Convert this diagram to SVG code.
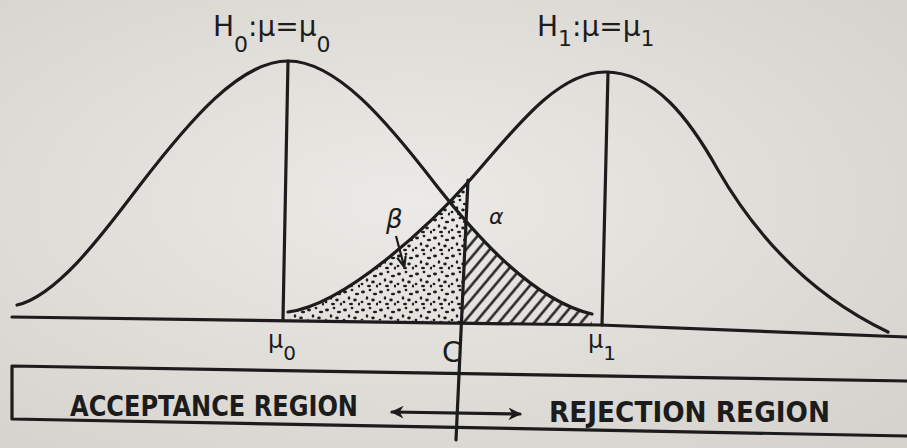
<svg xmlns="http://www.w3.org/2000/svg" width="907" height="448" viewBox="0 0 907 448">
<style>
.ink{fill:none;stroke:#1c1c1c;stroke-width:3.2;stroke-linecap:round;stroke-linejoin:round}
.lbl{font-family:"DejaVu Sans","Liberation Sans",sans-serif;fill:#1c1c1c}
.reg{font-family:"Liberation Sans Narrow","DejaVu Sans Condensed","Liberation Sans",sans-serif;font-weight:bold;fill:#1c1c1c;font-size:29px}
</style>
<defs>
<radialGradient id="paper" cx="0.45" cy="0.45" r="0.75">
<stop offset="0" stop-color="#eceae6"/>
<stop offset="1" stop-color="#d5d2cd"/>
</radialGradient>
<pattern id="hatch" patternUnits="userSpaceOnUse" width="9" height="9" patternTransform="rotate(-50)">
<line x1="0" y1="4.5" x2="9" y2="4.5" stroke="#1c1c1c" stroke-width="2.4"/>
</pattern>
<pattern id="dots" patternUnits="userSpaceOnUse" width="18" height="18">
<ellipse cx="3" cy="4" rx="2" ry="1.4" fill="#1c1c1c"/>
<ellipse cx="10" cy="2" rx="1.4" ry="1.2" fill="#1c1c1c"/>
<ellipse cx="15" cy="6" rx="2.2" ry="1.3" fill="#1c1c1c"/>
<ellipse cx="7" cy="10" rx="1.3" ry="1.8" fill="#1c1c1c"/>
<ellipse cx="13" cy="12" rx="1.8" ry="1.4" fill="#1c1c1c"/>
<ellipse cx="2" cy="14" rx="1.4" ry="1.2" fill="#1c1c1c"/>
<ellipse cx="9" cy="16" rx="2" ry="1.2" fill="#1c1c1c"/>
<ellipse cx="17" cy="16" rx="1.2" ry="1.6" fill="#1c1c1c"/>
</pattern>
<clipPath id="leftArea">
<path d="M17,305 C60,295 110,224 140,185 C190,120 240,61 288,61 C336,61 386,120 436,185 C470,228 530,300 592,314 L592,326 L17,320 Z"/>
</clipPath>
<clipPath id="rightArea">
<path d="M288,312 C345,305 430,225 470,180 C510,135 555,72 605,72 C655,72 690,120 718,170 C748,222 800,290 888,332 L888,340 L288,322 Z"/>
</clipPath>
<clipPath id="leftOfC">
<path d="M0,0 L470,0 L468,180 L463,322 L288,319 L0,319 Z"/>
</clipPath>
<clipPath id="rightOfC">
<path d="M468,0 L907,0 L907,326 L463,323 Z"/>
</clipPath>
<marker id="ah" viewBox="0 0 10 10" refX="9" refY="5" markerWidth="4" markerHeight="4" orient="auto-start-reverse">
<path d="M0,0 L10,5 L0,10 L3,5 Z" fill="#1c1c1c"/>
</marker>
<marker id="sm" viewBox="0 0 10 10" refX="9" refY="5" markerWidth="5" markerHeight="5" orient="auto">
<path d="M0,1 L10,5 L0,9" fill="none" stroke="#1c1c1c" stroke-width="2"/>
</marker>
</defs>
<rect width="907" height="448" fill="url(#paper)"/>

<g id="beta-area" clip-path="url(#leftOfC)">
<rect x="280" y="170" width="200" height="160" fill="url(#dots)" clip-path="url(#rightArea)"/>
</g>
<g id="alpha-area" clip-path="url(#rightOfC)">
<rect x="460" y="190" width="140" height="140" fill="url(#hatch)" clip-path="url(#leftArea)"/>
</g>

<g id="axis">
<path class="ink" d="M12,317 L600,325 L907,337"/>
</g>
<g id="h0-curve">
<path class="ink" d="M17,305 C60,295 110,224 140,185 C190,120 240,61 288,61 C336,61 386,120 436,185 C470,228 530,300 592,314"/>
<line class="ink" x1="288" y1="61" x2="283" y2="319"/>
</g>
<g id="h1-curve">
<path class="ink" d="M288,312 C345,305 430,225 470,180 C510,135 555,72 605,72 C655,72 690,120 718,170 C748,222 800,290 888,332"/>
<line class="ink" x1="608" y1="72" x2="602" y2="325"/>
</g>
<g id="c-line">
<line class="ink" x1="468" y1="180" x2="456" y2="440"/>
</g>

<g id="h0-label">
<text class="lbl" x="213" y="36" font-size="28">H<tspan dy="16" font-size="22">0</tspan><tspan dy="-16">:μ=μ</tspan><tspan dy="16" font-size="22">0</tspan></text>
</g>
<g id="h1-label">
<text class="lbl" x="537" y="36" font-size="28">H<tspan dy="10" font-size="22">1</tspan><tspan dy="-10">:μ=μ</tspan><tspan dy="10" font-size="22">1</tspan></text>
</g>
<g id="beta-label">
<text class="lbl" x="386" y="228" font-size="26" font-style="italic">β</text>
</g>
<g id="alpha-label">
<text class="lbl" x="489" y="224" font-size="22" font-style="italic">α</text>
</g>
<g id="mu0-label">
<text class="lbl" x="268" y="348" font-size="24">μ<tspan dy="12" font-size="20">0</tspan></text>
</g>
<g id="c-label">
<text class="lbl" x="442" y="362" font-size="28">C</text>
</g>
<g id="mu1-label">
<text class="lbl" x="588" y="348" font-size="24">μ<tspan dy="12" font-size="20">1</tspan></text>
</g>

<g id="region-box">
<path class="ink" d="M12,366 L907,381 M12,366 L12,419 L907,436"/>
<text class="reg" x="70" y="416" textLength="288" lengthAdjust="spacingAndGlyphs">ACCEPTANCE REGION</text>
<text class="reg" x="549" y="422" textLength="281" lengthAdjust="spacingAndGlyphs">REJECTION REGION</text>
</g>

<g id="connectors">
<line class="ink" x1="392" y1="412" x2="520" y2="414" marker-start="url(#ah)" marker-end="url(#ah)"/>
<line x1="396" y1="236" x2="404" y2="266" stroke="#1c1c1c" stroke-width="2.2" marker-end="url(#sm)"/>
</g>
</svg>
